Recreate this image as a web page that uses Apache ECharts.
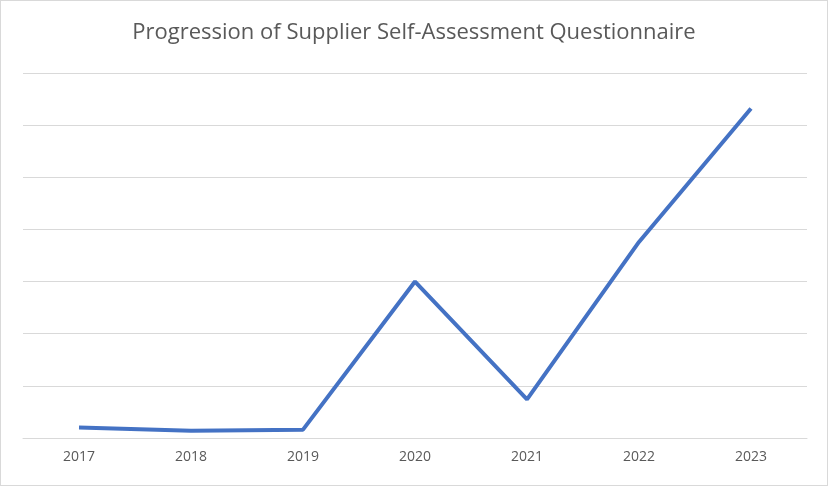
<!DOCTYPE html>
<html><head><meta charset="utf-8">
<script src="https://cdn.jsdelivr.net/npm/echarts@6/dist/echarts.min.js"></script>
<style>html,body{margin:0;padding:0;background:#fff}#c{width:828px;height:486px;box-sizing:border-box;border:1px solid #d9d9d9}</style>
</head><body><div id="c"></div>
<script>
const categories=['2017','2018','2019','2020','2021','2022','2023'];
const values=[10,7,8,150,37,188,316];
const chart=echarts.init(document.getElementById('c'));
chart.setOption({
  animation:false,
  title:{text:'Progression of Supplier Self-Assessment Questionnaire',left:'center',top:16,
    textStyle:{fontFamily:'Open Sans',fontWeight:'normal',fontSize:22,color:'#595959'}},
  grid:{left:22,right:20,top:72,bottom:47},
  xAxis:{type:'category',data:categories,boundaryGap:true,
    axisLine:{lineStyle:{color:'#d9d9d9'}},axisTick:{show:false},
    axisLabel:{color:'#595959',fontSize:14,fontFamily:'Open Sans',margin:12}},
  yAxis:{type:'value',min:0,max:350,interval:50,axisLabel:{show:false},
    axisLine:{show:false},axisTick:{show:false},splitLine:{lineStyle:{color:'#d9d9d9'}}},
  series:[{type:'line',data:values,showSymbol:false,symbol:'none',
    lineStyle:{color:'#4472C4',width:4},
    label:{show:true,position:'right',distance:14,offset:[0,4],color:'#404040',fontSize:14,fontFamily:'Open Sans'}}]
});
</script></body></html>
